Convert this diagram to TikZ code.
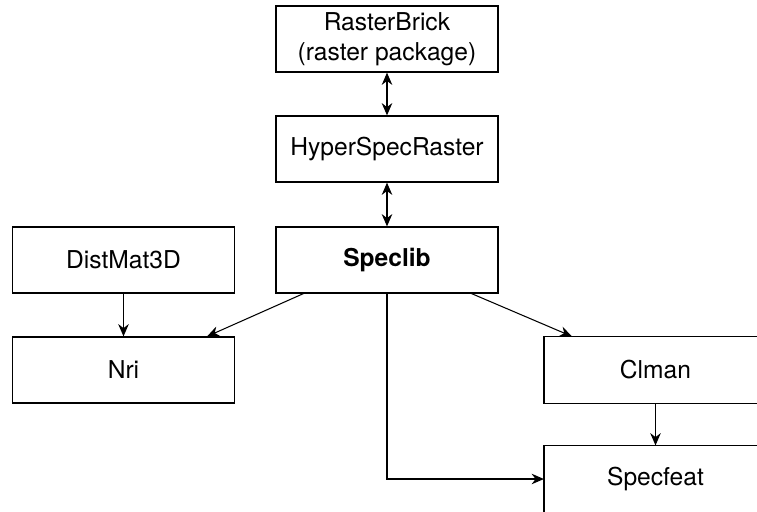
\documentclass[tikz,border=0pt]{standalone}
\usepackage{fontspec}
\setmainfont{TeX Gyre Heros}
\usetikzlibrary{arrows.meta}

\begin{document}
\begin{tikzpicture}[x=0.02cm, y=-0.02cm,
            box/.style={draw, line width=0.7pt, minimum width=4.44cm, minimum height=1.32cm,
                        align=center, font=\fontsize{14}{17}\selectfont},
            openbox/.style={box, draw=none},
            link/.style={line width=0.6pt, -{Stealth[length=7pt, width=6pt]}},
            both/.style={line width=0.6pt, {Stealth[length=7pt, width=6pt]}-{Stealth[length=7pt, width=6pt]}}]
            \path[use as bounding box, clip] (0, 0) rectangle (757, 511);

            \node[box] (rasterbrick) at (387, 39) {RasterBrick\\(raster package)};
            \node[box] (hyperspec) at (387, 149) {HyperSpecRaster};
            \node[box] (speclib) at (387, 260) {\bfseries Speclib};
            \node[box] (distmat) at (123.5, 260) {DistMat3D};
            \node[box] (nri) at (123.5, 370) {Nri};
            \node[openbox] (clman) at (655.5, 370) {Clman};
            \node[openbox] (specfeat) at (655.5, 479) {Specfeat};

            % these two run past the edge of the picture
            \draw[line width=0.7pt] (clman.north west) rectangle ([xshift=1cm]clman.south east);
            \draw[line width=0.7pt] (specfeat.north west) rectangle ([xshift=1cm, yshift=-1cm]specfeat.south east);

            \draw[both] (rasterbrick) -- (hyperspec);
            \draw[both] (hyperspec) -- (speclib);
            \draw[link] (distmat) -- (nri);
            \draw[link] (clman) -- (specfeat);
            \draw[link] ([xshift=0.56cm]speclib.south west) -- ([xshift=-0.56cm]nri.north east);
            \draw[link] ([xshift=-0.54cm]speclib.south east) -- ([xshift=0.56cm]clman.north west);
            \draw[link] (speclib.south) |- (specfeat.west);
        \end{tikzpicture}
\end{document}
